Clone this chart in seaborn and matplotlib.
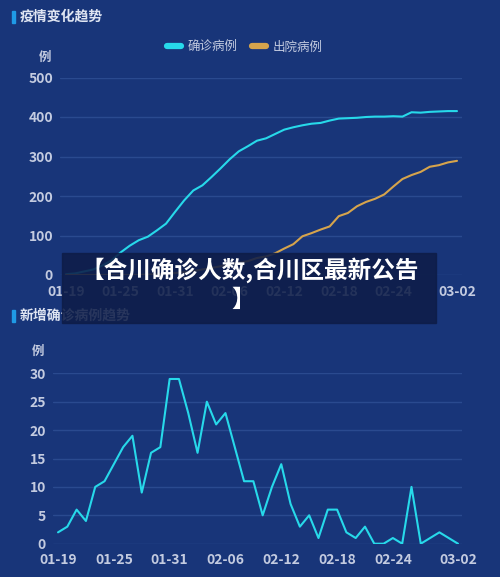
import numpy as np
import pandas as pd
import matplotlib
matplotlib.use("Agg")
import matplotlib.pyplot as plt
import seaborn as sns
from matplotlib.patches import Rectangle

# data
dates = pd.date_range("2020-01-19", "2020-03-02").strftime("%m-%d").tolist()
confirmed = [2, 4, 9, 14, 24, 37, 57, 74, 88, 97,
             113, 130, 160, 189, 214, 227, 248, 270, 293, 313,
             326, 340, 346, 357, 368, 374, 379, 383, 385, 391,
             396, 397, 398, 400, 401, 401, 402, 401, 412, 411,
             413, 414, 415, 415]
discharged = [0, 0, 0, 0, 0, 0, 0, 0, 0, 1,
              2, 3, 5, 7, 10, 14, 18, 22, 28, 31,
              35, 43, 47, 55, 67, 78, 98, 106, 115, 123,
              149, 157, 174, 185, 193, 204, 224, 243, 253, 261,
              274, 278, 285, 289]
new_cases = [2, 3, 6, 4, 10, 11, 14, 17, 19, 9,
             16, 17, 29, 29, 23, 16, 25, 21, 23, 17,
             11, 11, 5, 10, 14, 7, 3, 5, 1, 6,
             6, 2, 1, 3, 0, 0, 1, 0, 10, 0,
             1, 2, 1, 0]
series_names = ["确诊病例", "出院病例"]
xtick_labels = ["01-19", "01-25", "01-31", "02-06", "02-12", "02-18", "02-24", "03-02"]

BG = "#183579"
CYAN = "#27d9ea"
ORANGE = "#d6a44c"
GRID = "#2a4a8f"
TICK = "#c3cbe0"
TITLE = "#dfe5f2"

sns.set_theme(style="dark")
plt.rcParams["font.family"] = ["Noto Sans CJK SC", "DejaVu Sans"]

day = list(range(len(dates)))
df_top = pd.DataFrame({
    "day": day * 2,
    "value": confirmed + discharged,
    "kind": [series_names[0]] * len(day) + [series_names[1]] * len(day),
})
df_bot = pd.DataFrame({"day": day, "value": new_cases})
xticks = [dates.index(d) for d in xtick_labels]

W, H = 500, 577
fig = plt.figure(figsize=(W / 100, H / 100), dpi=100, facecolor=BG)


def px(x0, y0, x1, y1):
    # pixel box (top-left origin) -> figure rect
    return [x0 / W, 1 - y1 / H, (x1 - x0) / W, (y1 - y0) / H]


def style_axis(ax, yticks):
    ax.set_facecolor(BG)
    for s in ax.spines.values():
        s.set_visible(False)
    ax.set_yticks(yticks)
    ax.set_xticks(xticks)
    ax.set_xticklabels(xtick_labels)
    ax.grid(axis="y", color=GRID, linewidth=1)
    ax.grid(axis="x", visible=False)
    ax.tick_params(axis="both", length=0, colors=TICK, labelsize=10)
    ax.tick_params(axis="y", pad=5)
    ax.tick_params(axis="x", pad=7)
    for lab in ax.get_xticklabels() + ax.get_yticklabels():
        lab.set_fontweight("bold")
    ax.set_xlabel("")
    ax.set_ylabel("")


# top chart
ax1 = fig.add_axes(px(60, 77.5, 462, 275))
sns.lineplot(data=df_top, x="day", y="value", hue="kind",
             palette=[CYAN, ORANGE], linewidth=1.5, ax=ax1)
ax1.set_xlim(-0.66, 43.55)
ax1.set_ylim(0, 500)
style_axis(ax1, [0, 100, 200, 300, 400, 500])
sns.move_legend(ax1, "center", bbox_to_anchor=(0.46, 1.155), ncol=2,
                frameon=False, title=None, fontsize=9, handlelength=1.1,
                columnspacing=1.2, handletextpad=0.5)
leg = ax1.get_legend()
for h in leg.legend_handles:
    h.set_linewidth(4.5)
    h.set_solid_capstyle("round")
for t in leg.get_texts():
    t.set_color(TICK)

# bottom chart
ax2 = fig.add_axes(px(53, 373.3, 462, 543.7))
sns.lineplot(data=df_bot, x="day", y="value", color=CYAN, linewidth=1.5, ax=ax2)
ax2.set_xlim(-0.54, 43.43)
ax2.set_ylim(0, 30)
style_axis(ax2, [0, 5, 10, 15, 20, 25, 30])

# unit labels
fig.text(45 / W, 1 - 57 / H, "例", color=TICK, fontsize=9, fontweight="bold",
         ha="center", va="center")
fig.text(38 / W, 1 - 351 / H, "例", color=TICK, fontsize=9, fontweight="bold",
         ha="center", va="center")

# section titles with accent bar
for y, title in [(17, "疫情变化趋势"), (316, "新增确诊病例趋势")]:
    fig.patches.append(Rectangle((12 / W, 1 - (y + 6) / H), 3 / W, 12 / H,
                                 transform=fig.transFigure, color="#1f9ae6"))
    fig.text(20 / W, 1 - y / H, title, color=TITLE, fontsize=10,
             fontweight="bold", ha="left", va="center")

# overlay banner
fig.patches.append(Rectangle((62 / W, 1 - 323 / H), (436 - 62) / W, (323 - 253) / H,
                             transform=fig.transFigure, color="#0e1d48",
                             alpha=0.88, zorder=10))
fig.text(250 / W, 1 - 270 / H, "【合川确诊人数,合川区最新公告", color="white",
         fontsize=17, fontweight="heavy", ha="center", va="center", zorder=11)
fig.text(243 / W, 1 - 300 / H, "】", color="white",
         fontsize=17, fontweight="heavy", ha="center", va="center", zorder=11)

fig.savefig("out.png", dpi=100, facecolor=BG)
